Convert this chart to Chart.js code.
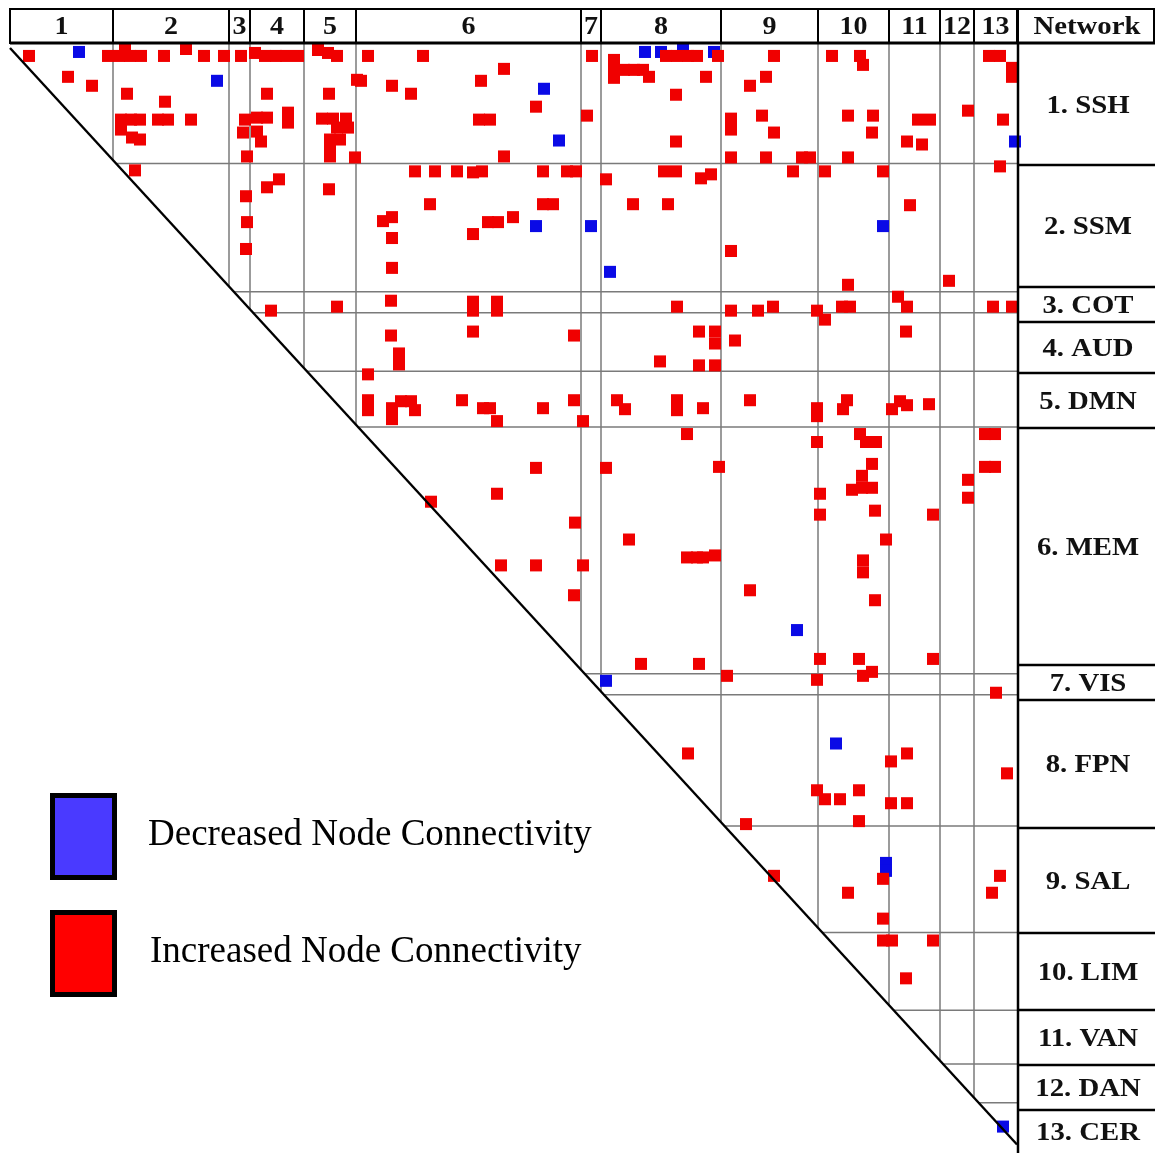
<!DOCTYPE html>
<html>
<head>
<meta charset="utf-8">
<script src="https://cdn.jsdelivr.net/npm/chart.js@4.4.1/dist/chart.umd.min.js"></script>
<style>
  body { margin: 0; background: #fff; }
  #wrap { width: 1155px; height: 1153px; }
</style>
</head>
<body>
<div id="wrap"><canvas id="matrix" width="1155" height="1153"></canvas></div>
<script>
// network names (rows) and column numbers
const networks = ['1. SSH', '2. SSM', '3. COT', '4. AUD', '5. DMN', '6. MEM', '7. VIS',
                  '8. FPN', '9. SAL', '10. LIM', '11. VAN', '12. DAN', '13. CER'];
const colNumbers = ['1', '2', '3', '4', '5', '6', '7', '8', '9', '10', '11', '12', '13'];

// network boundaries along the matrix (columns / rows), in matrix units
const colEdges = [10, 113, 229, 250, 304, 356, 581, 601, 721, 818, 889, 940, 974, 1017];
const rowEdges = [44, 164, 293, 314, 373, 429, 677, 698, 830, 937, 1015, 1069, 1108, 1150];
const labelEdges = [44, 165, 287, 322, 373, 428, 665, 700, 828, 933, 1010, 1065, 1110, 1153];

// increased node connectivity [column, row]
const increased = [
  // row 1 SSH
  [29,56],[68,77],[92,86],[108,56],[119,56],[130,56],[141,56],[125,49],
  [164,56],[186,49],[204,56],[224,56],[241,56],[255,53],[265,56],[276,56],[286,56],[298,56],
  [318,50],[328,53],[337,56],[357,80],[368,56],[423,56],[504,69],[361,81],[392,86],[411,94],
  [481,81],[536,107],[587,116],[479,120],[490,120],[676,95],[676,142],[504,157],[355,158],
  [592,56],[614,60],[614,70],[614,78],[624,70],[634,70],[643,70],[649,77],
  [666,56],[677,56],[688,56],[697,56],[706,77],[718,56],
  [774,56],[832,56],[860,56],[863,65],[989,56],[1000,56],[1012,68],[1012,77],
  [766,77],[750,86],[762,116],[731,119],[731,130],[774,133],[848,116],[873,116],[872,133],
  [918,120],[930,120],[907,142],[922,145],[968,111],[1003,120],
  [731,158],[766,158],[802,158],[810,158],[848,158],
  [127,94],[165,102],[121,120],[131,120],[140,120],[121,130],[132,138],[140,140],
  [158,120],[168,120],[191,120],
  [245,120],[243,133],[247,157],[257,118],[267,118],[257,132],[261,142],[288,113],[288,123],[267,94],
  [329,94],[322,119],[333,119],[346,119],[337,128],[348,128],[330,140],[340,140],[330,150],[330,157],
  // row 2 SSM
  [135,171],[246,197],[247,223],[246,250],[267,188],[279,180],[329,190],
  [415,172],[435,172],[457,172],[473,173],[482,172],[543,172],[567,172],[576,172],
  [606,180],[664,172],[676,172],[701,179],[711,175],
  [430,205],[543,205],[553,205],[633,205],[668,205],
  [383,222],[392,218],[488,223],[498,223],[513,218],[473,235],[392,239],[392,269],
  [793,172],[825,172],[883,172],[1000,167],[910,206],[731,252],[848,286],[949,282],
  // row 3 COT
  [271,312],[337,308],[391,302],[473,303],[473,312],[497,303],[497,312],
  [677,308],[731,312],[758,312],[773,308],[817,312],[825,321],[842,308],[850,308],
  [898,298],[907,308],[993,308],[1012,308],
  // row 4 AUD
  [391,337],[473,333],[574,337],[399,355],[399,366],[699,333],[715,333],[715,345],
  [735,342],[660,363],[699,367],[715,367],[906,333],
  // row 5 DMN
  [368,376],[368,402],[368,412],[392,410],[392,421],[401,403],[411,403],[415,412],
  [462,402],[483,410],[490,410],[497,423],[543,410],[574,402],[583,423],[617,402],[625,411],
  [677,402],[677,412],[703,410],[750,402],[817,410],[817,418],[847,402],[843,411],
  [892,411],[900,403],[907,407],[929,406],
  // row 6 MEM
  [687,436],[817,444],[860,436],[866,444],[876,444],[985,436],[995,436],
  [536,470],[606,470],[719,469],[872,466],[985,469],[995,469],
  [862,478],[968,482],[968,500],[497,496],[431,504],
  [852,492],[862,490],[872,490],[820,496],[820,517],[875,513],[933,517],
  [575,525],[629,542],[886,542],[687,560],[697,560],[703,560],[715,558],[863,563],[863,575],
  [501,568],[536,568],[583,568],[574,598],[750,593],[875,603],
  [820,662],[859,662],[933,662],[641,667],[699,667],
  // row 7 VIS
  [727,679],[817,683],[863,679],[872,675],[996,696],
  // row 8 FPN
  [688,757],[907,757],[891,765],[1007,777],[817,794],[825,803],[840,803],[859,794],
  [891,807],[907,807],[859,825],[746,828],
  // row 9 SAL
  [774,880],[883,883],[848,897],[1000,880],[992,897],[883,923],
  // row 10 LIM
  [883,945],[892,945],[933,945],[906,983]
];

// decreased node connectivity [column, row]
const decreased = [
  [79,52],[217,81],[544,89],[559,141],[645,52],[661,52],[683,48],[714,52],[1015,142],
  [536,227],[591,227],[610,273],[883,227],
  [797,633],[606,684],[836,747],[886,867],[886,875],[1003,1132]
];

// diagonal of the matrix (start / end)
const diagonal = [[10, 48], [1017, 1150]];

const legendItems = ['Decreased Node Connectivity', 'Increased Node Connectivity'];
const legendColors = ['#4a3aff', '#ff0000'];

const toPoints = arr => arr.map(p => ({ x: p[0], y: p[1] }));

function diagRowAt(c) {
  const [a, b] = diagonal;
  return a[1] + (c - a[0]) * (b[1] - a[1]) / (b[0] - a[0]);
}
function diagColAt(r) {
  const [a, b] = diagonal;
  return a[0] + (r - a[1]) * (b[0] - a[0]) / (b[1] - a[1]);
}

function stretchedText(ctx, text, cx, cy, font, sx) {
  ctx.save();
  ctx.translate(cx, cy);
  ctx.scale(sx, 1);
  ctx.font = font;
  ctx.textAlign = 'center';
  ctx.textBaseline = 'middle';
  ctx.fillText(text, 0, 0);
  ctx.restore();
}

const gridPlugin = {
  id: 'matrixGrid',
  beforeDatasetsDraw(chart) {
    const { ctx, scales: { x, y } } = chart;
    ctx.save();
    ctx.strokeStyle = '#7a7a7a';
    ctx.lineWidth = 1.5;
    colEdges.slice(1, -1).forEach(c => {
      ctx.beginPath();
      ctx.moveTo(x.getPixelForValue(c), y.getPixelForValue(rowEdges[0]));
      ctx.lineTo(x.getPixelForValue(c), y.getPixelForValue(diagRowAt(c)));
      ctx.stroke();
    });
    rowEdges.slice(1, -1).forEach(r => {
      ctx.beginPath();
      ctx.moveTo(x.getPixelForValue(diagColAt(r)), y.getPixelForValue(r));
      ctx.lineTo(x.getPixelForValue(colEdges[colEdges.length - 1]), y.getPixelForValue(r));
      ctx.stroke();
    });
    ctx.restore();
  },
  afterDatasetsDraw(chart) {
    const { ctx, scales: { x, y } } = chart;
    const right = x.getPixelForValue(colEdges[colEdges.length - 1]);
    const top = y.getPixelForValue(rowEdges[0]);
    ctx.save();

    // diagonal
    ctx.strokeStyle = '#000';
    ctx.lineWidth = 2.4;
    ctx.beginPath();
    ctx.moveTo(x.getPixelForValue(diagonal[0][0]), y.getPixelForValue(diagonal[0][1]));
    ctx.lineTo(x.getPixelForValue(diagonal[1][0]), y.getPixelForValue(diagonal[1][1]));
    ctx.stroke();

    // header row with network numbers
    const hTop = 9;
    ctx.fillStyle = '#fff';
    ctx.fillRect(x.getPixelForValue(colEdges[0]), hTop, 1155, top - hTop);
    ctx.strokeStyle = '#000';
    ctx.lineWidth = 2;
    ctx.strokeRect(x.getPixelForValue(colEdges[0]), hTop, right - x.getPixelForValue(colEdges[0]), top - hTop - 1);
    ctx.strokeRect(right + 1, hTop, 1155 - right - 2, top - hTop - 1);
    ctx.lineWidth = 3;
    ctx.beginPath();
    ctx.moveTo(x.getPixelForValue(colEdges[0]), top - 1);
    ctx.lineTo(1155, top - 1);
    ctx.stroke();
    ctx.lineWidth = 2;
    ctx.fillStyle = '#111';
    colNumbers.forEach((n, i) => {
      const x0 = x.getPixelForValue(colEdges[i]);
      const x1 = x.getPixelForValue(colEdges[i + 1]);
      if (i > 0) {
        ctx.beginPath();
        ctx.moveTo(x0, hTop);
        ctx.lineTo(x0, top);
        ctx.stroke();
      }
      stretchedText(ctx, n, (x0 + x1) / 2, 28, 'bold 25px "Liberation Serif"', 1.12);
    });
    stretchedText(ctx, 'Network', (right + 1155) / 2 + 1, 28, 'bold 25px "Liberation Serif"', 1.15);

    // network label column
    ctx.lineWidth = 2.5;
    ctx.beginPath();
    ctx.moveTo(right + 1, top);
    ctx.lineTo(right + 1, 1153);
    ctx.stroke();
    labelEdges.slice(1, -1).forEach(r => {
      ctx.beginPath();
      ctx.moveTo(right + 1, r);
      ctx.lineTo(1155, r);
      ctx.stroke();
    });
    networks.forEach((name, i) => {
      const cy = (labelEdges[i] + labelEdges[i + 1]) / 2 + 2;
      stretchedText(ctx, name, (right + 1155) / 2 + 2, cy, 'bold 25px "Liberation Serif"', 1.15);
    });

    // legend
    const boxes = [793, 910];
    boxes.forEach((by, i) => {
      ctx.fillStyle = '#000';
      ctx.fillRect(50, by, 67, 87);
      ctx.fillStyle = legendColors[i];
      ctx.fillRect(55, by + 5, 57, 77);
      ctx.fillStyle = '#000';
      ctx.font = '37px "Liberation Serif"';
      ctx.textAlign = 'left';
      ctx.textBaseline = 'middle';
      ctx.fillText(legendItems[i], 148 + i * 2, by + 42);
    });
    ctx.restore();
  }
};

new Chart(document.getElementById('matrix'), {
  type: 'scatter',
  data: {
    datasets: [
      {
        label: 'Increased Node Connectivity',
        data: toPoints(increased),
        backgroundColor: '#f00000',
        borderWidth: 0,
        pointStyle: 'rect',
        pointRadius: 8.5,
        clip: false
      },
      {
        label: 'Decreased Node Connectivity',
        data: toPoints(decreased),
        backgroundColor: '#0a0ae6',
        borderWidth: 0,
        pointStyle: 'rect',
        pointRadius: 8.5,
        clip: false
      }
    ]
  },
  options: {
    responsive: false,
    animation: false,
    layout: { padding: { left: 10, right: 138, top: 44, bottom: 3 } },
    plugins: { legend: { display: false }, tooltip: { enabled: false } },
    scales: {
      x: { type: 'linear', min: colEdges[0], max: colEdges[colEdges.length - 1], display: false },
      y: { type: 'linear', min: rowEdges[0], max: rowEdges[rowEdges.length - 1], reverse: true, display: false }
    }
  },
  plugins: [gridPlugin]
});
</script>
</body>
</html>
